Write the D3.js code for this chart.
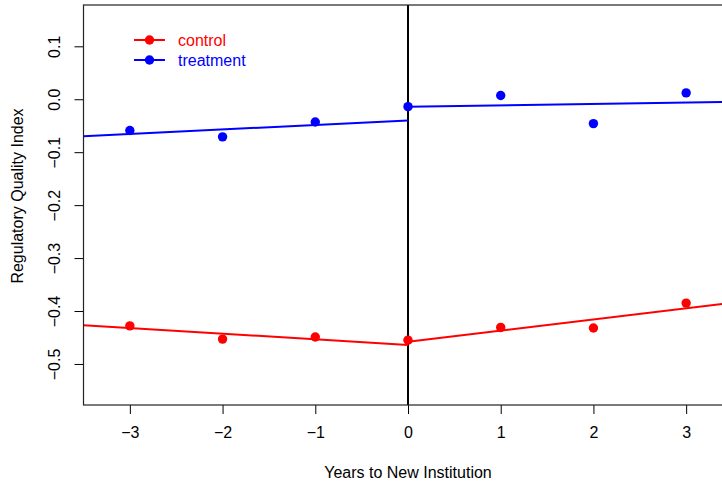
<!DOCTYPE html>
<html>
<head>
<meta charset="utf-8">
<script src="https://cdn.jsdelivr.net/npm/d3@7"></script>
<style>
  body { margin: 0; background: #fff; }
  text { font-family: "Liberation Sans", Arial, sans-serif; }
</style>
</head>
<body>
<svg id="chart" width="722" height="483"></svg>
<script>
let years = [-3, -2, -1, 0, 1, 2, 3];
let controlMeans = [-0.428, -0.453, -0.449, -0.455, -0.431, -0.432, -0.385];
let treatmentMeans = [-0.059, -0.071, -0.043, -0.014, 0.007, -0.046, 0.012];

// fitted segments before and after the new institution
let fitX = [[-3.5, 0], [0, 3.5]];
let controlFit = [[-0.427, -0.464], [-0.458, -0.3845]];
let treatmentFit = [[-0.070, -0.040], [-0.014, -0.005]];

let xTicks = [-3, -2, -1, 0, 1, 2, 3];
let yTicks = [-0.5, -0.4, -0.3, -0.2, -0.1, 0.0, 0.1];

let groups = [
  {name: "control", color: "#ff0000", means: controlMeans, fit: controlFit},
  {name: "treatment", color: "#0000ff", means: treatmentMeans, fit: treatmentFit}
];

let svg = d3.select("#chart");
let margin = {left: 83.5, top: 5, bottom: 405};

let x = d3.scaleLinear().domain([-3.5, 3.5]).range([margin.left, 732.5]);
let y = d3.scaleLinear().domain([-0.5775, 0.178]).range([margin.bottom, margin.top]);

let plot = svg.append("g");

// clip to plot region
svg.append("clipPath").attr("id", "clip")
  .append("rect")
  .attr("x", margin.left).attr("y", margin.top)
  .attr("width", x(3.5) - margin.left).attr("height", margin.bottom - margin.top);

// axes
let xAxis = d3.axisBottom(x).tickValues(xTicks).tickSize(9).tickPadding(13)
  .tickFormat(d => d < 0 ? "\u2212" + Math.abs(d) : d);
svg.append("g")
  .attr("transform", "translate(0," + margin.bottom + ")")
  .call(xAxis)
  .call(g => g.select(".domain").remove())
  .call(g => g.selectAll("text").style("font-size", "16px").attr("fill", "#000"));

let yAxis = d3.axisLeft(y).tickValues(yTicks).tickSize(9)
  .tickFormat(d => (d < 0 ? "\u2212" : "") + Math.abs(d).toFixed(1));
let yg = svg.append("g")
  .attr("transform", "translate(" + margin.left + ",0)")
  .call(yAxis)
  .call(g => g.select(".domain").remove());
yg.selectAll("text")
  .style("font-size", "16px")
  .attr("fill", "#000")
  .attr("x", null).attr("dy", null)
  .attr("text-anchor", "middle")
  .attr("transform", "translate(-28,0) rotate(-90)")
  .attr("dominant-baseline", "middle");

// box
svg.append("rect")
  .attr("x", margin.left).attr("y", margin.top)
  .attr("width", x(3.5) - margin.left).attr("height", margin.bottom - margin.top)
  .attr("fill", "none").attr("stroke", "#222").attr("stroke-width", 1.2);

// axis titles
svg.append("text")
  .attr("x", 408).attr("y", 478)
  .attr("text-anchor", "middle")
  .style("font-size", "16px")
  .text("Years to New Institution");

svg.append("text")
  .attr("transform", "translate(23,196) rotate(-90)")
  .attr("text-anchor", "middle")
  .style("font-size", "16px")
  .text("Regulatory Quality Index");

let inner = plot.attr("clip-path", "url(#clip)");

// vertical line at 0
inner.append("line")
  .attr("x1", x(0)).attr("x2", x(0))
  .attr("y1", margin.top).attr("y2", margin.bottom)
  .attr("stroke", "#000").attr("stroke-width", 2);

groups.forEach(function(grp){
  grp.fit.forEach(function(seg, i){
    inner.append("line")
      .attr("x1", x(fitX[i][0])).attr("x2", x(fitX[i][1]))
      .attr("y1", y(seg[0])).attr("y2", y(seg[1]))
      .attr("stroke", grp.color).attr("stroke-width", 2);
  });
  inner.selectAll(".pt-" + grp.name)
    .data(grp.means)
    .enter()
    .append("circle")
    .attr("class", "pt-" + grp.name)
    .attr("cx", (d, i) => x(years[i]))
    .attr("cy", d => y(d))
    .attr("r", 4.7)
    .attr("fill", grp.color);
});

// legend
let legend = svg.append("g").attr("transform", "translate(134,40)");
groups.forEach(function(grp, i){
  let row = legend.append("g").attr("transform", "translate(0," + i * 20 + ")");
  row.append("line").attr("x1", 0).attr("x2", 31).attr("y1", 0).attr("y2", 0)
    .attr("stroke", grp.color).attr("stroke-width", 2);
  row.append("circle").attr("cx", 15.5).attr("cy", 0).attr("r", 4.7).attr("fill", grp.color);
  row.append("text").attr("x", 44).attr("y", 0).attr("dy", "0.35em")
    .style("font-size", "16px").attr("fill", grp.color).text(grp.name);
});
</script>
</body>
</html>
